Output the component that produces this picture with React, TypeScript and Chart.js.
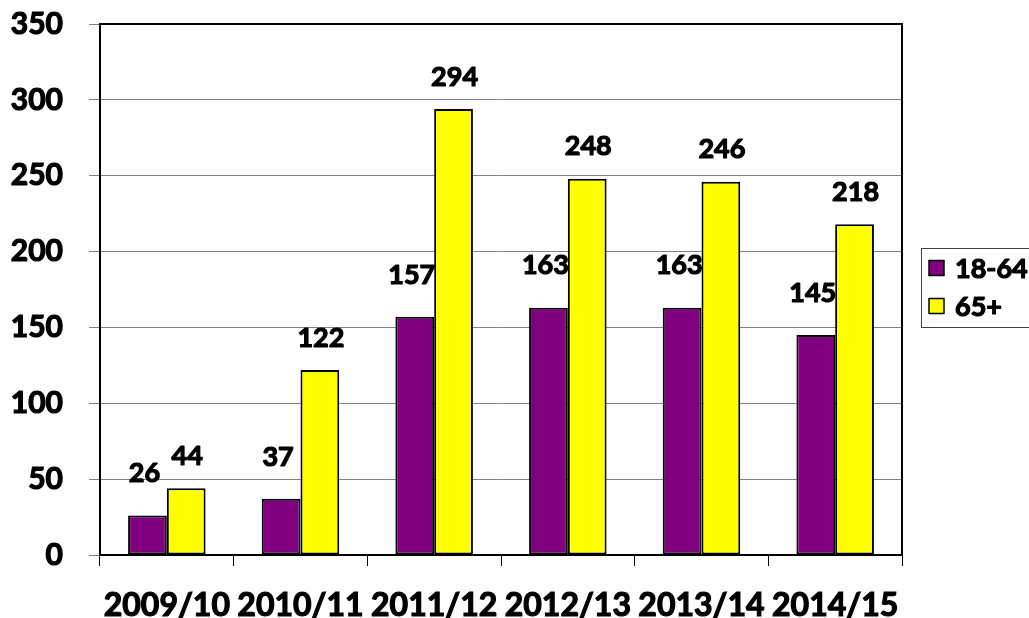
import React, { useEffect, useRef } from "react";
import { Chart, registerables } from "chart.js";

Chart.register(...registerables);

const categories = ["2009/10", "2010/11", "2011/12", "2012/13", "2013/14", "2014/15"];
const seriesNames = ["18-64", "65+"];
const values1864 = [26, 37, 157, 163, 163, 145];
const values65 = [44, 122, 294, 248, 246, 218];
const colors = ["#800080", "#FFFF00"];
const yMax = 350;
const yStep = 50;

const FONT = "Lato, 'Open Sans', sans-serif";
const W = "bold";
const STROKE = 1.2;

function boldText(ctx: any, text: string, x: number, y: number) {
  ctx.lineWidth = STROKE;
  ctx.strokeStyle = "#000";
  ctx.lineJoin = "round";
  ctx.strokeText(text, x, y);
  ctx.fillText(text, x, y);
}

const frameAndLabels = {
  id: "frameAndLabels",
  afterDatasetsDraw(chart: any) {
    const ctx = chart.ctx;
    ctx.save();
    ctx.font = `${W} 27px ${FONT}`;
    ctx.fillStyle = "#000";
    ctx.textAlign = "center";
    ctx.textBaseline = "middle";
    const cfg = [
      { dx: -3, dy: 42 },
      { dx: 1, dy: 32 },
    ];
    chart.data.datasets.forEach((ds: any, di: number) => {
      const meta = chart.getDatasetMeta(di);
      meta.data.forEach((el: any, i: number) => {
        boldText(ctx, String(ds.data[i]), el.x + cfg[di].dx, el.y - cfg[di].dy);
      });
    });
    ctx.restore();
  },
  afterDraw(chart: any) {
    const ctx = chart.ctx;
    const ca = chart.chartArea;
    ctx.save();
    ctx.strokeStyle = "#000";
    ctx.lineWidth = 2;
    ctx.strokeRect(ca.left, ca.top, ca.right - ca.left, ca.bottom - ca.top);
    const lx = ca.right + 19;
    const midY = (ca.top + ca.bottom) / 2;
    const bh = 79;
    const ly = midY - bh / 2 - 2;
    ctx.strokeStyle = "#404040";
    ctx.lineWidth = 1;
    ctx.strokeRect(lx + 0.5, ly + 0.5, 140, bh);
    ctx.font = `${W} 27px ${FONT}`;
    ctx.textAlign = "left";
    ctx.textBaseline = "middle";
    chart.data.datasets.forEach((ds: any, di: number) => {
      const cy = ly + 20 + di * 38;
      ctx.fillStyle = ds.backgroundColor;
      ctx.fillRect(lx + 8, cy - 7.5, 15, 15);
      ctx.strokeStyle = "#000";
      ctx.lineWidth = 1.5;
      ctx.strokeRect(lx + 8, cy - 7.5, 15, 15);
      ctx.fillStyle = "#000";
      boldText(ctx, ds.label, lx + 34, cy + 1);
    });
    ctx.restore();
  },
};

export default function App() {
  const ref = useRef<HTMLCanvasElement | null>(null);
  useEffect(() => {
    if (!ref.current) return;
    const chart = new Chart(ref.current, {
      type: "bar",
      data: {
        labels: categories,
        datasets: [
          {
            label: seriesNames[0],
            data: values1864,
            backgroundColor: colors[0],
            borderColor: "#000",
            borderWidth: 2,
            borderSkipped: false,
            categoryPercentage: 0.58,
            barPercentage: 1.0,
          },
          {
            label: seriesNames[1],
            data: values65,
            backgroundColor: colors[1],
            borderColor: "#000",
            borderWidth: 2,
            borderSkipped: false,
            categoryPercentage: 0.58,
            barPercentage: 1.0,
          },
        ],
      },
      options: {
        animation: false,
        responsive: false,
        maintainAspectRatio: false,
        layout: { padding: { left: 0, right: 127, top: 24, bottom: 0 } },
        plugins: {
          legend: { display: false },
          tooltip: { enabled: false },
        },
        scales: {
          x: {
            grid: {
              offset: true,
              drawOnChartArea: false,
              drawTicks: true,
              tickLength: 11,
              color: "#000",
              lineWidth: 1,
            },
            border: { color: "#000", width: 2 },
            ticks: {
              color: "#000",
              font: { family: FONT, weight: W, size: 32 },
              textStrokeColor: "#000",
              textStrokeWidth: STROKE,
              padding: 20,
              maxRotation: 0,
              autoSkip: false,
            },
            afterFit: (s: any) => {
              s.height = 63;
              s.paddingLeft = 0;
              s.paddingRight = 0;
            },
          },
          y: {
            min: 0,
            max: yMax,
            ticks: {
              stepSize: yStep,
              color: "#000",
              font: { family: FONT, weight: W, size: 30 },
              textStrokeColor: "#000",
              textStrokeWidth: STROKE,
              padding: 26,
            },
            grid: {
              color: "#808080",
              lineWidth: 1,
              drawTicks: true,
              tickLength: 11,
            },
            border: { color: "#000", width: 2 },
            afterFit: (s: any) => {
              s.width = 100;
              s.paddingTop = 0;
              s.paddingBottom = 0;
            },
          },
        },
      },
      plugins: [frameAndLabels],
    });
    return () => chart.destroy();
  }, []);
  return (
    <div style={{ position: "fixed", left: 0, top: 0, width: 1029, height: 618, background: "#fff" }}>
      <canvas ref={ref} width={1029} height={618} style={{ width: 1029, height: 618 }} />
    </div>
  );
}
